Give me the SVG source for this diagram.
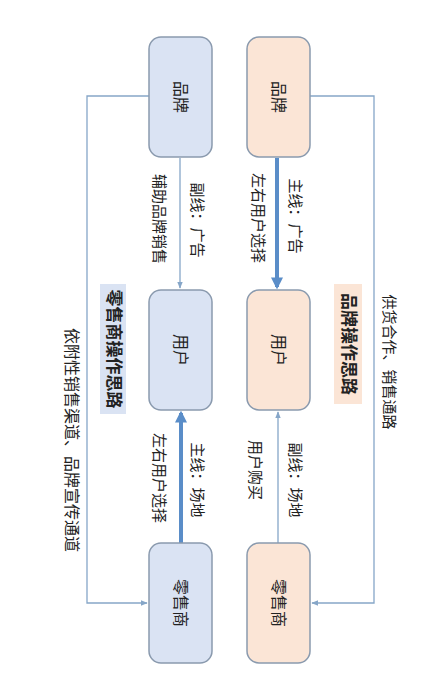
<svg xmlns="http://www.w3.org/2000/svg" width="441" height="688" viewBox="0 0 441 688">
<defs>
<style>
.t{font-family:"Liberation Sans","Noto Sans CJK SC",sans-serif;fill:#222;text-anchor:middle;dominant-baseline:central}
.n{font-size:16px}
.l{font-size:15px}
.s{font-size:16px}
.b{font-size:17px;font-weight:bold}
.bx{stroke:#8a9aae;stroke-width:1.5}
.blue{fill:#dae3f3}
.org{fill:#fbe5d6}
.thin{fill:none;stroke:#86a6c8;stroke-width:1.3}
.thick{fill:none;stroke:#5a8dc8;stroke-width:4}
</style>
<marker id="a1" viewBox="0 0 10 10" refX="9" refY="5" markerWidth="7" markerHeight="7" orient="auto" markerUnits="userSpaceOnUse"><path d="M0,1 L10,5 L0,9 z" fill="#86a6c8"/></marker>
<marker id="a2" viewBox="0 0 10 10" refX="8" refY="5" markerWidth="12" markerHeight="12" orient="auto" markerUnits="userSpaceOnUse"><path d="M0,0 L10,5 L0,10 z" fill="#5a8dc8"/></marker>
</defs>
<rect width="441" height="688" fill="#ffffff"/>

<g id="connectors">
<path class="thin" d="M180,158 L180,288" marker-end="url(#a1)"/>
<path class="thick" d="M277,158 L277,287" marker-end="url(#a2)"/>
<path class="thick" d="M181,543 L181,413" marker-end="url(#a2)"/>
<path class="thin" d="M278,543 L278,412" marker-end="url(#a1)"/>
<path class="thin" d="M149,96 L87,96 L87,603 L147,603" marker-end="url(#a1)"/>
<path class="thin" d="M310,96 L374,96 L374,603 L312,603" marker-end="url(#a1)"/>
<text class="t l" transform="translate(159,219) rotate(90)">辅助品牌销售</text>
<text class="t l" transform="translate(197,220) rotate(90)">副线：广告</text>
<text class="t l" transform="translate(258,218) rotate(90)">左右用户选择</text>
<text class="t l" transform="translate(295,216) rotate(90)">主线：广告</text>
<text class="t l" transform="translate(159,478) rotate(90)">左右用户选择</text>
<text class="t l" transform="translate(197,480) rotate(90)">主线：场地</text>
<text class="t l" transform="translate(255,470) rotate(90)">用户购买</text>
<text class="t l" transform="translate(295,480) rotate(90)">副线：场地</text>
<text class="t s" transform="translate(71,440) rotate(90)">依附性销售渠道、品牌宣传通道</text>
<text class="t l" transform="translate(389,362) rotate(90)">供货合作、销售通路</text>
</g>

<g id="label-retail">
<rect x="100" y="284" width="26" height="130" fill="#dae3f3"/>
<text class="t b" transform="translate(113,349) rotate(90)">零售商操作思路</text>
</g>
<g id="label-brand">
<rect x="334" y="284" width="28" height="120" fill="#fbe5d6"/>
<text class="t b" transform="translate(348,344) rotate(90)">品牌操作思路</text>
</g>

<g id="blue-brand"><rect class="bx blue" x="149" y="37" width="63" height="120" rx="12"/><text class="t n" transform="translate(180,97) rotate(90)">品牌</text></g>
<g id="blue-user"><rect class="bx blue" x="149" y="290" width="63" height="120" rx="12"/><text class="t n" transform="translate(180,350) rotate(90)">用户</text></g>
<g id="blue-retail"><rect class="bx blue" x="149" y="543" width="63" height="120" rx="12"/><text class="t n" transform="translate(180,603) rotate(90)">零售商</text></g>
<g id="org-brand"><rect class="bx org" x="247" y="37" width="63" height="120" rx="12"/><text class="t n" transform="translate(278,97) rotate(90)">品牌</text></g>
<g id="org-user"><rect class="bx org" x="247" y="290" width="63" height="120" rx="12"/><text class="t n" transform="translate(278,350) rotate(90)">用户</text></g>
<g id="org-retail"><rect class="bx org" x="247" y="543" width="63" height="120" rx="12"/><text class="t n" transform="translate(278,603) rotate(90)">零售商</text></g>
</svg>
